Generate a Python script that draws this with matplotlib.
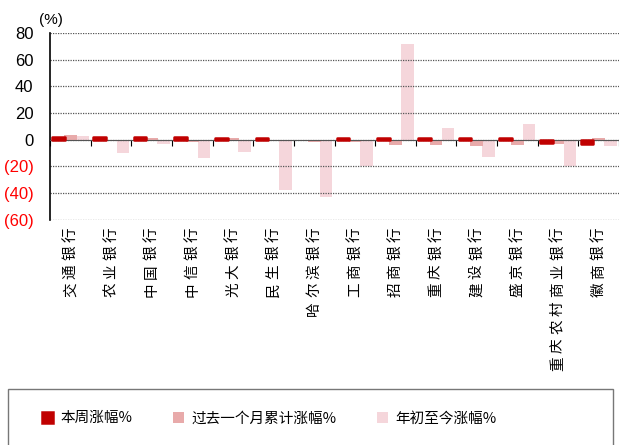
import matplotlib
matplotlib.use("Agg")
import matplotlib.pyplot as plt
from matplotlib.patches import Rectangle
from matplotlib.ticker import FuncFormatter
import numpy as np

plt.rcParams['font.family'] = ['Noto Sans CJK SC', 'DejaVu Sans']

banks = ["交通银行", "农业银行", "中国银行", "中信银行", "光大银行", "民生银行", "哈尔滨银行",
         "工商银行", "招商银行", "重庆银行", "建设银行", "盛京银行", "重庆农村商业银行", "徽商银行"]
week = [1.8, 1.8, 1.8, 1.8, 1.5, 1.5, 0.0, 1.2, 1.2, 1.2, 1.2, 1.2, -2.5, -3.5]
month = [3.8, -1.0, 1.0, -2.0, 1.0, -1.0, -1.5, -2.0, -4.0, -4.0, -4.5, -4.0, -3.0, 1.0]
ytd = [2.5, -10.0, -3.5, -14.0, -9.5, -38.0, -43.0, -20.0, 72.0, 8.5, -13.0, 12.0, -20.0, -4.5]
series_names = ["本周涨幅%", "过去一个月累计涨幅%", "年初至今涨幅%"]
colors = ["#C00000", "#E8AAAA", "#F5D6DB"]

fig = plt.figure(figsize=(6.19, 4.45), dpi=100)
ax = fig.add_axes([0.081, 0.506, 0.919, 0.42])

x = np.arange(len(banks))
w = 0.31
wb = ax.bar(x - 0.29, week, w, color=colors[0], edgecolor=colors[0], linewidth=1.8,
            joinstyle='round', label=series_names[0], zorder=3)
for b in wb:
    if b.get_height() == 0:
        b.set_visible(False)   # no change -> no mark
ax.bar(x, month, w, color=colors[1], label=series_names[1], zorder=2)
ax.bar(x + 0.29, ytd, w, color=colors[2], label=series_names[2], zorder=1)

ax.set_xlim(-0.5, len(banks) - 0.5)
ax.set_ylim(-60, 80)
ax.set_yticks(range(-60, 81, 20))
ax.yaxis.set_major_formatter(FuncFormatter(lambda v, p: "({:d})".format(int(-v)) if v < 0 else "{:d}".format(int(v))))
for lab, v in zip(ax.get_yticklabels(), range(-60, 81, 20)):
    lab.set_color("#FF0000" if v < 0 else "black")
    lab.set_family(["Liberation Sans", "DejaVu Sans"])
ax.tick_params(axis='y', labelsize=12, length=0, pad=12)
ax.grid(axis='y', color='#555555', linestyle=(0, (1, 1)), linewidth=0.9, zorder=0)

# x axis line sits at zero
ax.spines['bottom'].set_position(('data', 0))
ax.spines['bottom'].set_color('#555555')
ax.spines['top'].set_visible(False)
ax.spines['right'].set_visible(False)
ax.spines['left'].set_linewidth(1.2)
ax.set_xticks(np.arange(len(banks) + 1) - 0.5)
ax.set_xticklabels([])
ax.tick_params(axis='x', direction='out', length=4, color='black')

# category labels: rotated, one glyph at a time for the wide spacing
step = 13.3  # points per character
for i, name in enumerate(banks):
    for k, ch in enumerate(reversed(name)):
        ax.annotate(ch, xy=(i, 0), xycoords=('data', 'axes fraction'),
                    xytext=(0, -4 - (k + 0.5) * step), textcoords='offset points',
                    rotation=90, ha='center', va='center', fontsize=10.5)

fig.text(0.063, 0.945, "(%)", fontsize=11, family=["Liberation Sans", "DejaVu Sans"])

# legend box
fig.patches.append(Rectangle((0.013, -0.01), 0.978, 0.135, transform=fig.transFigure,
                             fill=False, edgecolor='#777777', linewidth=1.0))
fig.legend(loc='center', bbox_to_anchor=(0.435, 0.06), ncol=3, frameon=False,
           fontsize=10.5, handlelength=0.75, handleheight=0.75, handletextpad=0.5,
           columnspacing=2.8)

fig.savefig("out.png", dpi=100)
